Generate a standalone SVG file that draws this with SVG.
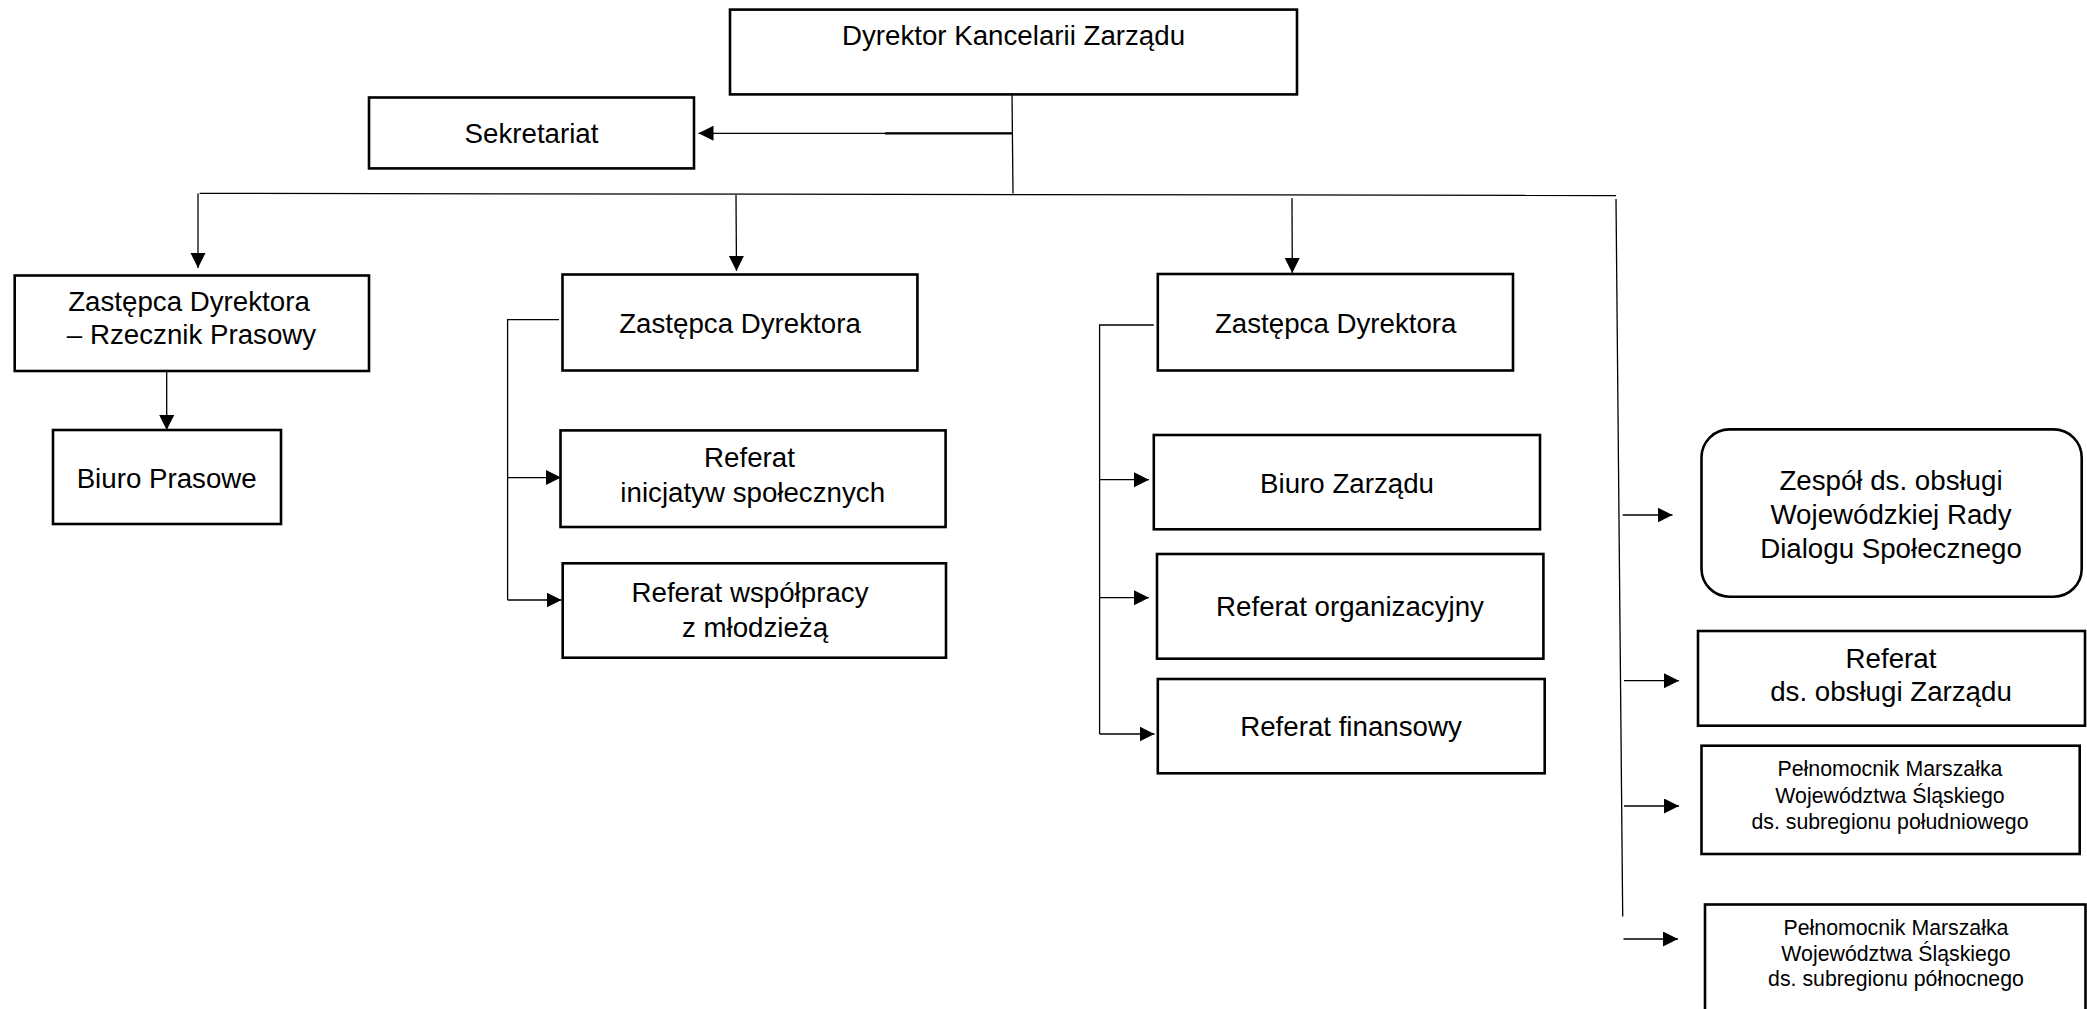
<svg xmlns="http://www.w3.org/2000/svg" width="2087" height="1009" viewBox="0 0 2087 1009">
<style>
.box{fill:#fff;stroke:#000;stroke-width:2.6}
.t{font-family:"Liberation Sans",Arial,sans-serif;font-size:27.7px;fill:#000;text-anchor:middle}
.s{font-family:"Liberation Sans",Arial,sans-serif;font-size:21.3px;fill:#000;text-anchor:middle}
.c{fill:none;stroke:#000;stroke-width:1.3}
</style>
<defs>
<marker id="ah" markerWidth="16" markerHeight="16" refX="15" refY="7.5" orient="auto" markerUnits="userSpaceOnUse">
<path d="M0,0 L15,7.5 L0,15 z" fill="#000"/>
</marker>
</defs>
<rect width="2087" height="1009" fill="#fff"/>
<g id="connectors">
<line class="c" x1="1012" y1="94" x2="1013" y2="193.5"/>
<line class="c" x1="1012" y1="133.3" x2="698.5" y2="133.3" marker-end="url(#ah)"/>
<line x1="885" y1="133.3" x2="1012" y2="133.3" stroke="#000" stroke-width="2.2"/>
<line class="c" x1="199.6" y1="193.3" x2="1616" y2="195.5"/>
<line class="c" x1="198" y1="193.5" x2="198" y2="268" marker-end="url(#ah)"/>
<line class="c" x1="736" y1="195" x2="736.5" y2="271" marker-end="url(#ah)"/>
<line class="c" x1="1292" y1="198" x2="1292.3" y2="273" marker-end="url(#ah)"/>
<line class="c" x1="166.7" y1="371" x2="166.7" y2="430" marker-end="url(#ah)"/>
<polyline class="c" points="559,319.6 507.6,319.6 507.6,600"/>
<line class="c" x1="507.6" y1="477.6" x2="561" y2="477.6" marker-end="url(#ah)"/>
<line class="c" x1="507.6" y1="600" x2="561.5" y2="600" marker-end="url(#ah)"/>
<polyline class="c" points="1153.8,325 1099.6,325 1099.6,734"/>
<line class="c" x1="1099.6" y1="479.7" x2="1149" y2="479.7" marker-end="url(#ah)"/>
<line class="c" x1="1099.6" y1="597.7" x2="1149" y2="597.7" marker-end="url(#ah)"/>
<line class="c" x1="1099.6" y1="734" x2="1154.5" y2="734" marker-end="url(#ah)"/>
<line class="c" x1="1616" y1="199" x2="1622.7" y2="916.5"/>
<line class="c" x1="1622.7" y1="515" x2="1672.5" y2="515" marker-end="url(#ah)"/>
<line class="c" x1="1624" y1="680.7" x2="1679" y2="680.7" marker-end="url(#ah)"/>
<line class="c" x1="1624" y1="806" x2="1679" y2="806" marker-end="url(#ah)"/>
<line class="c" x1="1623.5" y1="939" x2="1678" y2="939" marker-end="url(#ah)"/>
</g>
<g id="dyrektor">
<rect class="box" x="730" y="9.6" width="567" height="84.8"/>
<text class="t" x="1013.5" y="45">Dyrektor Kancelarii Zarządu</text>
</g>
<g id="sekretariat">
<rect class="box" x="369" y="97.5" width="325" height="70.9"/>
<text class="t" x="531.5" y="143">Sekretariat</text>
</g>
<g id="zastepca-rzecznik">
<rect class="box" x="14.7" y="275.5" width="354.3" height="95.5"/>
<text class="t" x="189" y="311">Zastępca Dyrektora</text>
<text class="t" x="191.5" y="344">– Rzecznik Prasowy</text>
</g>
<g id="biuro-prasowe">
<rect class="box" x="53" y="430" width="228" height="94"/>
<text class="t" x="166.7" y="487.5">Biuro Prasowe</text>
</g>
<g id="zastepca-2">
<rect class="box" x="562.5" y="274.5" width="354.9" height="96"/>
<text class="t" x="740" y="332.5">Zastępca Dyrektora</text>
</g>
<g id="referat-inicjatyw">
<rect class="box" x="560.5" y="430.4" width="385.1" height="96.6"/>
<text class="t" x="749.5" y="467">Referat</text>
<text class="t" x="752.7" y="502">inicjatyw społecznych</text>
</g>
<g id="referat-wspolpracy">
<rect class="box" x="562.7" y="563.3" width="383.3" height="94.4"/>
<text class="t" x="750" y="602">Referat współpracy</text>
<text class="t" x="755" y="637">z młodzieżą</text>
</g>
<g id="zastepca-3">
<rect class="box" x="1157.8" y="274" width="355.2" height="96.5"/>
<text class="t" x="1335.7" y="332.5">Zastępca Dyrektora</text>
</g>
<g id="biuro-zarzadu">
<rect class="box" x="1153.8" y="435" width="386.2" height="94.3"/>
<text class="t" x="1347" y="492.7">Biuro Zarządu</text>
</g>
<g id="referat-organizacyjny">
<rect class="box" x="1157" y="554" width="386.4" height="104.7"/>
<text class="t" x="1350" y="616">Referat organizacyjny</text>
</g>
<g id="referat-finansowy">
<rect class="box" x="1157.8" y="679" width="386.9" height="94.3"/>
<text class="t" x="1351" y="735.5">Referat finansowy</text>
</g>
<g id="zespol-wrds">
<rect class="box" x="1701.5" y="429.4" width="380.2" height="167.3" rx="28" ry="28"/>
<text class="t" x="1891" y="489.5">Zespół ds. obsługi</text>
<text class="t" x="1891" y="524">Wojewódzkiej Rady</text>
<text class="t" x="1891" y="558.3">Dialogu Społecznego</text>
</g>
<g id="referat-obslugi-zarzadu">
<rect class="box" x="1698" y="631" width="387" height="94.7"/>
<text class="t" x="1891" y="668">Referat</text>
<text class="t" x="1891" y="701.3">ds. obsługi Zarządu</text>
</g>
<g id="pelnomocnik-poludniowy">
<rect class="box" x="1701.5" y="745.7" width="378.2" height="108.3"/>
<text class="s" x="1890" y="776.3">Pełnomocnik Marszałka</text>
<text class="s" x="1890" y="802.6">Województwa Śląskiego</text>
<text class="s" x="1890" y="828.6">ds. subregionu południowego</text>
</g>
<g id="pelnomocnik-polnocny">
<rect class="box" x="1705" y="904.5" width="380.5" height="115"/>
<text class="s" x="1896" y="935.3">Pełnomocnik Marszałka</text>
<text class="s" x="1896" y="960.9">Województwa Śląskiego</text>
<text class="s" x="1896" y="986.3">ds. subregionu północnego</text>
</g>
</svg>
